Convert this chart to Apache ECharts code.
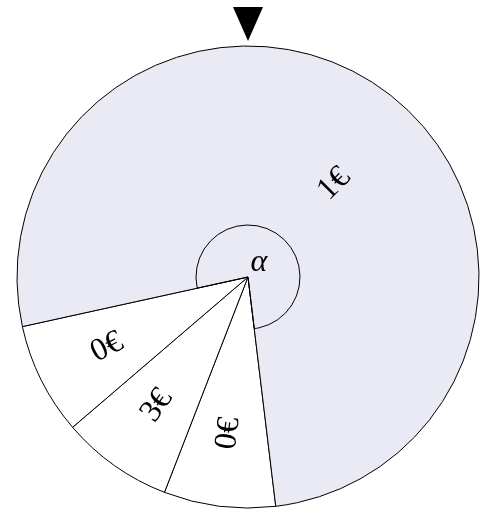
<!DOCTYPE html>
<html>
<head>
<meta charset="utf-8" />
<title>Glücksrad</title>
<style type="text/css">
  html, body {height:100%; margin:0; padding:0; background:#fff;}
  #main {width:485px; height:511px;}
</style>
<script type="text/javascript" src="https://cdn.jsdelivr.net/npm/echarts@6/dist/echarts.min.js"></script>
</head>
<body>
<div id="main"></div>
<script type="text/javascript">
// sectors, clockwise from the right edge of the last 0€ slice
var prizes = ['0€', '3€', '0€', '1€'];
var sectorAngles = [28.1, 28.2, 28.2, 275.5];   // degrees
var sectorColors = ['#ffffff', '#ffffff', '#ffffff', '#eaeaf4'];
var angleLabel = 'α';

var chart = echarts.init(document.getElementById('main'));

var labelFont = {fontFamily: 'Liberation Serif', fontSize: 32, color: '#000'};

var wheel = prizes.map(function (p, i) {
  var label = Object.assign({formatter: p}, labelFont);
  if (i < 3) {
    label.offset = [-39, 0];
  } else {
    // big slice: label sits at 45deg, not at the slice middle
    label.rotate = 45;
    label.offset = [10, 15];
  }
  return {name: p + i, value: sectorAngles[i], itemStyle: {color: sectorColors[i]}, label: label};
});

// small arc marking alpha, only on the big sector
var arc = prizes.map(function (p, i) {
  var big = i === 3;
  return {
    name: 'a' + i, value: sectorAngles[i],
    itemStyle: {color: 'rgba(0,0,0,0)', borderColor: big ? '#000' : 'rgba(0,0,0,0)'},
    label: Object.assign({show: big, formatter: angleLabel, fontStyle: 'italic', offset: [-6, 9]}, labelFont)
  };
});

chart.setOption({
  backgroundColor: '#fff',
  animation: false,
  graphic: [{
    type: 'polygon',
    shape: {points: [[233, 7], [263, 7], [248, 41]]},
    style: {fill: '#000'}
  }],
  series: [{
    type: 'pie',
    center: [248, 277],
    radius: [0, 231],
    startAngle: 276.9,
    clockwise: true,
    silent: true,
    avoidLabelOverlap: false,
    itemStyle: {borderColor: '#000', borderWidth: 1},
    label: {position: 'inside', rotate: 'radial'},
    labelLine: {show: false},
    data: wheel
  }, {
    type: 'pie',
    center: [248, 277],
    radius: [0, 52],
    startAngle: 276.9,
    clockwise: true,
    silent: true,
    avoidLabelOverlap: false,
    itemStyle: {borderWidth: 1},
    label: {position: 'inside'},
    labelLine: {show: false},
    data: arc
  }]
});
</script>
</body>
</html>
